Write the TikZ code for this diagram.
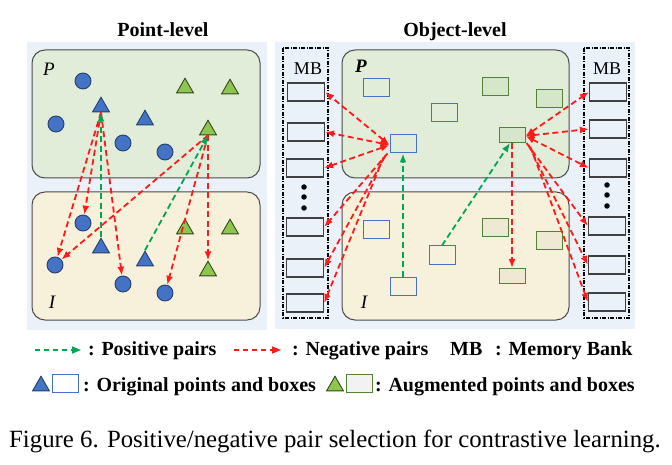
\documentclass[tikz,border=0pt]{standalone}
\usepackage{fontspec}
\setmainfont{Liberation Serif}
\usetikzlibrary{arrows.meta,shapes.geometric}
\definecolor{panelbg}{HTML}{EAF1F9}
\definecolor{pfill}{HTML}{E2EDD9}
\definecolor{ifill}{HTML}{F7F0DA}
\definecolor{bluef}{HTML}{4472C4}
\definecolor{bluee}{HTML}{24406E}
\definecolor{greenf}{HTML}{8DC54F}
\definecolor{greene}{HTML}{33481F}
\definecolor{boxgreen}{HTML}{548235}
\definecolor{gboxP}{HTML}{D5E6CB}
\definecolor{gboxI}{HTML}{EFE8D3}
\definecolor{gboxL}{HTML}{F2F2F2}
\definecolor{posgreen}{HTML}{00A651}
\definecolor{negred}{HTML}{FF1A1A}
\tikzset{
  circ/.style={circle, fill=bluef, draw=bluee, line width=0.9pt, minimum size=16pt, inner sep=0pt},
  btri/.style={regular polygon, regular polygon sides=3, fill=bluef, draw=bluee, line width=0.9pt, minimum size=19.5pt, inner sep=0pt},
  gtri/.style={regular polygon, regular polygon sides=3, fill=greenf, draw=greene, line width=0.9pt, minimum size=19.5pt, inner sep=0pt},
  bbox/.style={draw=bluef, line width=1pt, minimum width=26pt, minimum height=18pt, inner sep=0pt},
  gboxp/.style={draw=boxgreen, fill=gboxP, line width=1pt, minimum width=26pt, minimum height=18pt, inner sep=0pt},
  gboxi/.style={draw=boxgreen, fill=gboxI, line width=1pt, minimum width=26pt, minimum height=18pt, inner sep=0pt},
  cell/.style={draw=black!75, fill=panelbg, line width=1.2pt, minimum width=37pt, minimum height=18pt, inner sep=0pt},
  region/.style={draw=black!70, line width=1pt, rounded corners=13pt},
  mbframe/.style={draw=black, line width=1.6pt, dash pattern=on 4pt off 1.5pt on 1pt off 1.5pt},
  dotn/.style={circle, fill=black, minimum size=5.5pt, inner sep=0pt},
  posarrow/.style={posgreen, line width=1.8pt, dash pattern=on 6pt off 3.5pt, -{Latex[length=9pt,width=7pt]}},
  negarrow/.style={negred, line width=1.8pt, dash pattern=on 6pt off 3.5pt, -{Latex[length=9pt,width=7pt]}},
  negboth/.style={negred, line width=1.8pt, dash pattern=on 6pt off 3.5pt, {Latex[length=9pt,width=7pt]}-{Latex[length=9pt,width=7pt]}},
  legtxt/.style={font=\bfseries\fontsize{20}{20}\selectfont, inner sep=0pt, anchor=base west},
}
\begin{document}
\begin{tikzpicture}[x=1pt,y=-1pt]
\useasboundingbox (0,0) rectangle (672,465);
% panels
\fill[panelbg] (27,42) rectangle (267,330);
\fill[panelbg] (275,42) rectangle (635,329);
\node[font=\bfseries\fontsize{20}{20}\selectfont, inner sep=0pt, anchor=base] (tpt) at (163,37) {Point-level};
\node[font=\bfseries\fontsize{20}{20}\selectfont, inner sep=0pt, anchor=base] (tob) at (455,37) {Object-level};
% point-level regions
\draw[region, fill=pfill] (32,50) rectangle (260,178);
\draw[region, fill=ifill] (32,192) rectangle (260,320);
\node[font=\itshape\fontsize{19}{19}\selectfont, inner sep=0pt] (lp1) at (49,69) {P};
\node[font=\itshape\fontsize{19}{19}\selectfont, inner sep=0pt] (li1) at (52,302) {I};
% P points
\node[circ] (cP1) at (83,81) {};
\node[circ] (cP2) at (56,124) {};
\node[circ] (cP3) at (123,143) {};
\node[circ] (cP4) at (165,152) {};
\node[btri] (tP1) at (101,107) {};
\node[btri] (tP2) at (145,120) {};
\node[gtri] (gP1) at (185,88) {};
\node[gtri] (gP2) at (230,89) {};
\node[gtri] (gP3) at (208,130) {};
% I points
\node[circ] (cI1) at (83,223) {};
\node[circ] (cI2) at (55,265) {};
\node[circ] (cI3) at (123,284) {};
\node[circ] (cI4) at (165,293) {};
\node[btri] (tI1) at (101,248) {};
\node[btri] (tI2) at (145,261) {};
\node[gtri] (gI1) at (185,229) {};
\node[gtri] (gI2) at (230,229) {};
\node[gtri] (gI3) at (208,271) {};
% point-level arrows
\draw[negarrow] (tP1.south) -- (cI2);
\draw[negarrow] (tP1.south) -- (cI1);
\draw[negarrow] (tP1.south) -- (cI3);
\draw[negarrow] (gP3.south) -- (cI2);
\draw[negarrow] (gP3.south) -- (cI4);
\draw[negarrow, line width=2.2pt] (gP3.south) -- (gI3.north);
\draw[posarrow] (tI1.north) -- (tP1.south);
\draw[posarrow] (tI2.north) -- (gP3.south);
% object-level regions
\draw[region, fill=pfill] (342,50) rectangle (569,178);
\draw[region, fill=ifill] (342,192) rectangle (569,320);
\node[font=\bfseries\itshape\fontsize{19}{19}\selectfont, inner sep=0pt] (lp2) at (361,66) {P};
\node[font=\itshape\fontsize{19}{19}\selectfont, inner sep=0pt] (li2) at (364,302) {I};
% boxes P
\node[bbox] (bP1) at (376,88) {};
\node[bbox] (bP2) at (444,113) {};
\node[bbox] (bP3) at (403,144) {};
\node[gboxp] (xP1) at (495,87) {};
\node[gboxp] (xP2) at (549,99) {};
\node[gboxp, minimum height=15pt] (xP3) at (512,135) {};
% boxes I
\node[bbox] (bI1) at (376,230) {};
\node[bbox] (bI2) at (442,255) {};
\node[bbox] (bI3) at (403,286) {};
\node[gboxi] (xI1) at (495,228) {};
\node[gboxi] (xI2) at (549,241) {};
\node[gboxi, minimum height=15pt] (xI3) at (512,276) {};
% memory banks
\draw[mbframe] (283,48) rectangle (328,318);
\draw[mbframe] (584,48) rectangle (629,318);
\node[font=\fontsize{18}{18}\selectfont, inner sep=0pt, anchor=base] (mbl) at (308,75) {MB};
\node[font=\fontsize{18}{18}\selectfont, inner sep=0pt, anchor=base] (mbr) at (607,75) {MB};
\node[cell] (L1) at (306,92) {};
\node[cell] (L2) at (306,132) {};
\node[cell] (L3) at (305,168) {};
\node[cell] (L4) at (305,227) {};
\node[cell] (L5) at (305,268) {};
\node[cell] (L6) at (305,303) {};
\node[dotn] (ld1) at (304,187) {};
\node[dotn] (ld2) at (304,197) {};
\node[dotn] (ld3) at (304,208) {};
\node[cell] (R1) at (608,92) {};
\node[cell] (R2) at (608,129) {};
\node[cell] (R3) at (608,168) {};
\node[cell] (R4) at (607,226) {};
\node[cell] (R5) at (607,265) {};
\node[cell] (R6) at (607,302) {};
\node[dotn] (rd1) at (607,185) {};
\node[dotn] (rd2) at (607,195) {};
\node[dotn] (rd3) at (607,206) {};
% object-level arrows
\coordinate (bl) at ([yshift=-1pt]bP3.west);
\draw[negboth] (bl) -- (L1.east);
\draw[negboth] (bl) -- (L2.east);
\draw[negboth] (bl) -- (L3.east);
\draw[negarrow] ([xshift=-2pt]bP3.south west) -- (L4.east);
\draw[negarrow] ([xshift=-4pt,yshift=-2pt]bP3.south west) -- (L5.east);
\draw[negarrow] ([xshift=-6pt,yshift=-4pt]bP3.south west) -- (L6.east);
\coordinate (gr) at ([yshift=-1pt]xP3.east);
\draw[negboth] (gr) -- (R1.west);
\draw[negboth] (gr) -- (R2.west);
\draw[negboth] (gr) -- (R3.west);
\draw[negarrow] ([xshift=1pt]xP3.south east) -- (R4.west);
\draw[negarrow] ([xshift=3pt,yshift=-2pt]xP3.south east) -- (R5.west);
\draw[negarrow] ([xshift=5pt,yshift=-4pt]xP3.south east) -- (R6.west);
\draw[negarrow] (xP3.south) -- (xI3.north);
\draw[posarrow] (bI3.north) -- (bP3.south);
\draw[posarrow] (bI2.north) -- ([xshift=-2pt]xP3.south);
% legend
\coordinate (lga) at (35,350);
\coordinate (lgb) at (81,350);
\draw[posarrow, line width=1.5pt, dash pattern=on 5pt off 4pt, -{Triangle[length=9pt,width=7pt]}] (lga) -- (lgb);
\node[legtxt] (lt1) at (88,355) {: Positive pairs};
\coordinate (lra) at (234,350);
\coordinate (lrb) at (281,350);
\draw[negarrow, line width=1.5pt, dash pattern=on 5pt off 4pt, -{Triangle[length=9pt,width=7pt]}] (lra) -- (lrb);
\node[legtxt] (lt2) at (292,355) {: Negative pairs};
\node[legtxt] (lt3) at (450,355) {MB};
\node[legtxt] (lt4) at (495,355) {: Memory Bank};
\node[btri] (lgt1) at (41,386) {};
\node[bbox, fill=white] (lgbx1) at (65,383.5) {};
\node[legtxt] (lt5) at (83,391) {: Original points and boxes};
\node[gtri] (lgt2) at (335,386) {};
\node[draw=boxgreen, fill=gboxL, line width=1pt, minimum width=26pt, minimum height=18pt, inner sep=0pt] (lgbx2) at (359,383.5) {};
\node[legtxt] (lt6) at (375,391) {: Augmented points and boxes};
% caption
\node[font=\fontsize{24.8}{25}\selectfont, inner sep=0pt, anchor=base west] (cap) at (9,447) {Figure 6. Positive/negative pair selection for contrastive learning.};
\end{tikzpicture}
\end{document}
